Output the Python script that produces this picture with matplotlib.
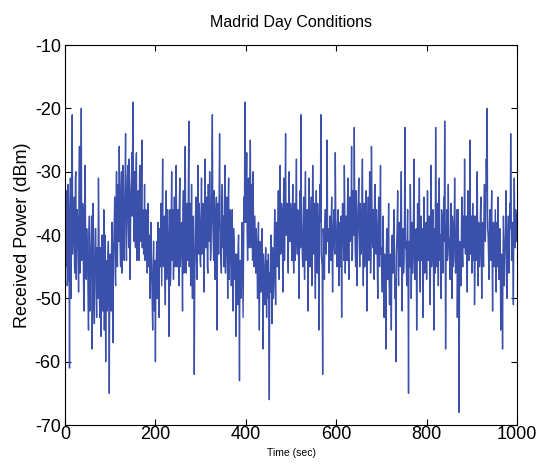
import numpy as np
import matplotlib
matplotlib.use("Agg")
import matplotlib.pyplot as plt

# received power readings (dBm) at even seconds, 0..1000 s
power_even = [
    -38, -45, -33, -47, -36, -61, -31, -44, -21, -40, -34, -46, -30, -42, -38, -49, -26, -43, -20, -41, -36, -52, -29, -45, -39,
    -44, -55, -37, -48, -41, -58, -35, -50, -43, -39, -53, -46, -31, -49, -42, -56, -40, -52, -36, -47, -60, -44, -51, -41, -65,
    -43, -52, -38, -57, -41, -34, -48, -30, -45, -37, -26, -42, -33, -46, -29, -40, -35, -24, -44, -31, -38, -28, -47, -33, -27,
    -19, -37, -30, -42, -27, -39, -33, -44, -29, -41, -25, -36, -43, -32, -40, -38, -46, -35, -42, -50, -38, -47, -55, -41, -52,
    -60, -44, -50, -38, -53, -42, -35, -48, -28, -45, -37, -51, -33, -43, -40, -56, -36, -46, -30, -42, -47, -34, -39, -29, -45,
    -36, -48, -31, -43, -38, -52, -33, -41, -26, -46, -35, -44, -22, -39, -48, -32, -50, -37, -62, -41, -34, -47, -29, -43, -38,
    -45, -31, -40, -36, -49, -28, -42, -34, -46, -38, -30, -44, -37, -21, -41, -33, -47, -39, -55, -35, -43, -24, -40, -46, -32,
    -37, -45, -29, -42, -34, -50, -31, -44, -39, -48, -36, -52, -41, -47, -56, -43, -51, -40, -63, -45, -49, -38, -53, -34, -19,
    -38, -27, -44, -31, -40, -25, -42, -35, -30, -45, -37, -46, -41, -50, -38, -55, -44, -48, -39, -58, -46, -51, -42, -53, -47,
    -43, -66, -49, -40, -54, -44, -48, -36, -51, -38, -45, -33, -47, -29, -42, -36, -49, -31, -44, -24, -40, -35, -46, -30, -41,
    -37, -44, -32, -46, -35, -41, -28, -43, -38, -50, -33, -21, -40, -45, -34, -47, -30, -42, -36, -52, -31, -45, -39, -48, -29,
    -43, -35, -50, -33, -46, -39, -55, -32, -21, -44, -62, -40, -47, -36, -43, -25, -41, -46, -37, -44, -34, -49, -38, -42, -27,
    -40, -45, -36, -48, -38, -43, -53, -35, -41, -29, -46, -37, -44, -31, -47, -34, -40, -26, -43, -36, -23, -42, -33, -48, -38,
    -31, -45, -37, -42, -28, -48, -35, -40, -33, -52, -38, -44, -30, -46, -26, -41, -36, -47, -32, -43, -39, -50, -34, -45, -29,
    -42, -49, -37, -53, -44, -58, -39, -47, -35, -51, -43, -55, -40, -46, -36, -50, -60, -41, -33, -48, -38, -45, -30, -52, -39,
    -44, -23, -41, -48, -36, -65, -45, -32, -50, -38, -43, -28, -47, -40, -55, -35, -44, -31, -49, -37, -42, -53, -34, -46, -39,
    -47, -33, -44, -38, -51, -29, -43, -36, -55, -40, -23, -45, -35, -48, -31, -42, -50, -37, -46, -34, -22, -58, -39, -44, -32,
    -41, -47, -35, -50, -38, -44, -31, -46, -40, -53, -36, -68, -42, -48, -34, -45, -39, -28, -43, -37, -49, -33, -44, -25, -40,
    -46, -35, -42, -51, -37, -44, -30, -48, -39, -43, -34, -50, -38, -45, -32, -41, -28, -20, -40, -47, -36, -44, -33, -52, -38,
    -45, -36, -49, -41, -34, -47, -39, -55, -43, -58, -37, -48, -42, -33, -50, -40, -46, -35, -24, -44, -38, -51, -31, -42, -37,
    -40,
]

# readings at odd seconds, 1..999 s
power_odd = [
    -42, -35, -48, -32, -44, -39, -50, -34, -43, -37, -45, -31, -47, -36, -41, -33, -46, -38, -44, -35, -48, -40, -34, -47, -42,
    -49, -40, -52, -43, -37, -51, -45, -54, -39, -48, -42, -50, -38, -53, -46, -41, -49, -44, -55, -40, -47, -52, -43, -49, -45,
    -48, -42, -50, -44, -38, -46, -35, -43, -32, -41, -36, -45, -30, -39, -34, -44, -31, -40, -36, -29, -42, -35, -39, -31, -37,
    -33, -41, -36, -31, -44, -35, -40, -30, -38, -34, -42, -37, -39, -44, -36, -42, -39, -45, -40, -47, -43, -51, -45, -49, -44,
    -48, -41, -46, -43, -39, -45, -41, -37, -43, -40, -46, -39, -47, -36, -44, -41, -48, -38, -44, -36, -40, -45, -33, -41, -38,
    -41, -35, -45, -39, -44, -36, -46, -33, -40, -37, -42, -31, -45, -35, -42, -44, -39, -46, -48, -36, -44, -38, -41, -35, -44,
    -38, -43, -35, -44, -33, -41, -37, -45, -32, -41, -36, -42, -30, -38, -44, -36, -42, -34, -46, -39, -33, -37, -44, -35, -42,
    -41, -34, -46, -37, -43, -35, -47, -36, -42, -40, -44, -39, -46, -43, -49, -45, -42, -48, -44, -50, -41, -46, -43, -38, -32,
    -33, -40, -36, -42, -34, -38, -32, -44, -37, -41, -42, -39, -45, -43, -47, -41, -49, -44, -46, -43, -50, -45, -48, -44, -50,
    -52, -46, -43, -48, -42, -50, -41, -46, -40, -44, -39, -45, -37, -43, -35, -41, -38, -44, -34, -40, -36, -43, -33, -39, -35,
    -41, -36, -43, -38, -44, -34, -40, -36, -45, -37, -42, -35, -43, -39, -41, -36, -44, -38, -43, -40, -37, -42, -34, -40, -36,
    -39, -44, -37, -42, -35, -46, -40, -38, -43, -45, -39, -44, -38, -42, -37, -41, -39, -43, -40, -38, -42, -41, -36, -43, -37,
    -43, -38, -42, -40, -45, -37, -41, -39, -44, -36, -42, -39, -35, -43, -38, -41, -36, -44, -33, -40, -37, -45, -36, -41, -34,
    -40, -35, -43, -33, -41, -37, -45, -36, -42, -38, -34, -40, -37, -43, -35, -42, -39, -33, -40, -36, -44, -38, -41, -36, -43,
    -46, -40, -48, -43, -50, -42, -45, -41, -47, -44, -49, -42, -46, -39, -44, -47, -43, -38, -45, -41, -43, -37, -44, -40, -46,
    -38, -42, -44, -40, -47, -41, -45, -39, -43, -46, -37, -42, -45, -39, -44, -41, -38, -45, -40, -44, -39, -46, -41, -43, -38,
    -41, -44, -37, -43, -40, -45, -38, -42, -39, -46, -37, -41, -43, -38, -44, -40, -36, -43, -39, -41, -38, -45, -36, -43, -40,
    -44, -39, -43, -37, -45, -40, -38, -42, -36, -44, -47, -41, -45, -39, -43, -37, -42, -40, -38, -44, -36, -41, -38, -43, -37,
    -40, -44, -37, -45, -40, -36, -42, -38, -45, -37, -42, -39, -43, -36, -40, -37, -33, -39, -43, -38, -41, -37, -44, -40, -42,
    -40, -43, -38, -45, -40, -44, -42, -48, -46, -44, -41, -45, -38, -42, -44, -37, -41, -39, -35, -40, -43, -37, -39, -36, -41,
]

# merge into one 1-second series
power = np.empty(len(power_even) + len(power_odd))
power[0::2] = power_even
power[1::2] = power_odd
time = np.arange(len(power))

plt.rcParams['font.family'] = ['Liberation Sans', 'DejaVu Sans']
plt.rcParams['axes.unicode_minus'] = False

fig = plt.figure(figsize=(5.39, 4.70), dpi=100)
ax = fig.add_axes([0.1206, 0.0957, 0.8386, 0.8083])

ax.plot(time, power, color='#3a50aa', linewidth=1.0)

ax.set_xlim(0, 1000)
ax.set_ylim(-70, -10)
ax.set_xticks([0, 200, 400, 600, 800, 1000])
ax.set_yticks([-70, -60, -50, -40, -30, -20, -10])
ax.tick_params(direction='in', length=4, labelsize=13, top=True, right=True)
ax.tick_params(axis='x', pad=1)
ax.tick_params(axis='y', pad=3)

ax.set_title('Madrid Day Conditions', fontsize=11.5, pad=13)
ax.set_xlabel('Time (sec)', fontsize=7.5, labelpad=3)
ax.set_ylabel('Received Power (dBm)', fontsize=13, labelpad=3)

fig.savefig('out.png', dpi=100)
